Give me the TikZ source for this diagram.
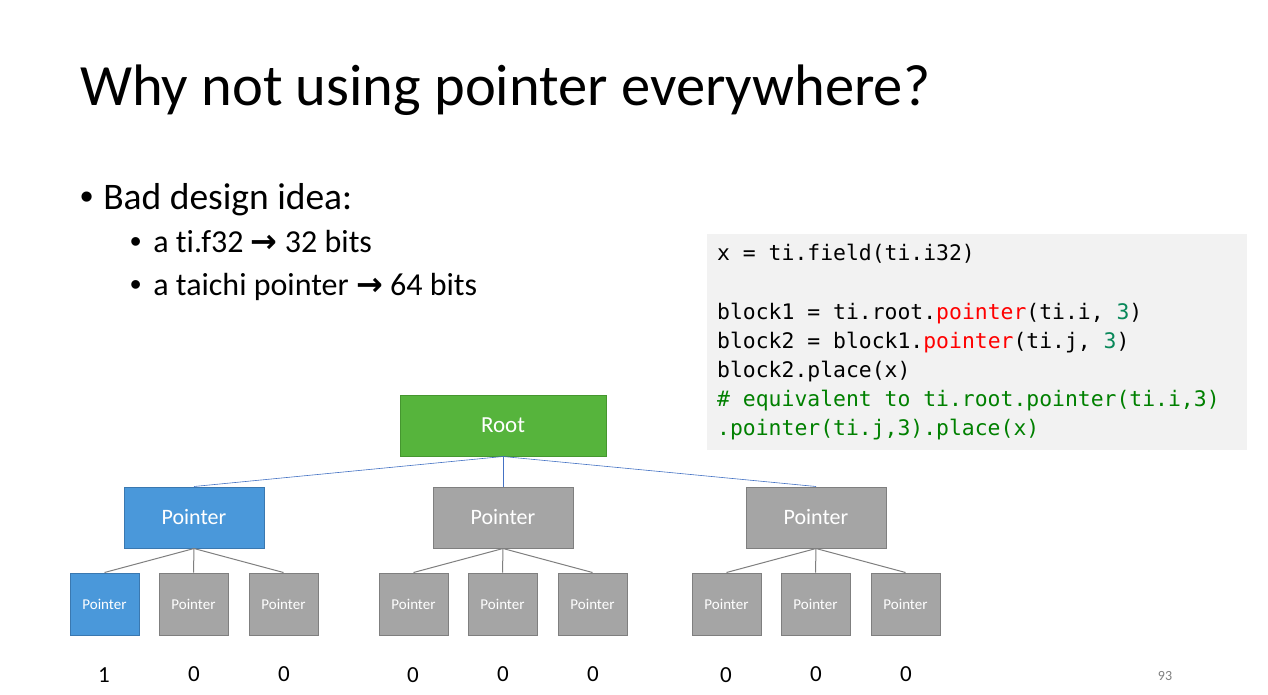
\documentclass[tikz,border=0pt]{standalone}
\usepackage{fontspec}
\setmainfont{Carlito}[Ligatures=NoCommon]
\newfontfamily\codefont{DejaVu Sans Mono}
\newfontfamily\symfont{DejaVu Sans}
\newfontfamily\bulfont{Liberation Sans}
\definecolor{rootgreen}{HTML}{56B43C}
\definecolor{rootedge}{HTML}{45962F}
\definecolor{ptrblue}{HTML}{4A98DA}
\definecolor{blueedge}{HTML}{3A78B0}
\definecolor{ptrgray}{HTML}{A5A5A5}
\definecolor{grayedge}{HTML}{7F7F7F}
\definecolor{linkblue}{HTML}{4472C4}
\definecolor{codebg}{HTML}{F2F2F2}
\definecolor{kwred}{HTML}{FF0000}
\definecolor{numgreen}{HTML}{09885A}
\definecolor{cmtgreen}{HTML}{008000}
\newcommand{\fs}[1]{\fontsize{#1}{#1}\selectfont}
\newcommand{\rarr}{{\symfont\bfseries →}}
\newcommand{\bul}{{\bulfont •}}
\begin{document}
\begin{tikzpicture}[x=1pt,y=-1pt,
  rootbox/.style={draw=rootedge,fill=rootgreen,line width=1pt,minimum width=206pt,minimum height=61pt,text=white,font=\fs{23}},
  bigptr/.style={draw=#1,line width=1pt,minimum width=140pt,minimum height=61pt,text=white,font=\fs{22}},
  smallptr/.style={draw=#1,line width=1pt,minimum width=69pt,minimum height=62pt,text=white,font=\fs{15}},
  bluelink/.style={draw=linkblue,line width=0.6pt},
  graylink/.style={draw=grayedge,line width=1pt},
  numlabel/.style={font=\fs{23},anchor=base},
  codeline/.style={anchor=base west,font=\codefont\fs{21.4},inner sep=0pt},
  bulletline/.style={anchor=base west,inner sep=0pt}
]
\useasboundingbox (0,0) rectangle (1268,695);
\fill[white] (0,0) rectangle (1268,695);

% title
\node[anchor=base west,inner sep=0pt,font=\fs{58.5}] (title) at (80,106) {Why not using pointer everywhere?};

% bullets
\node[bulletline,font=\fs{37.5}] (b1) at (80,209) {\bul\hspace{10pt}Bad design idea:};
\node[bulletline,font=\fs{32}] (b2) at (130,252) {\bul\hspace{12pt}a ti.f32 \rarr\ 32 bits};
\node[bulletline,font=\fs{32}] (b3) at (130,295) {\bul\hspace{12pt}a taichi pointer \rarr\ 64 bits};

% code box
\fill[codebg] (707,234) rectangle (1247,450);
\node[codeline] (c1) at (717,260) {x = ti.field(ti.i32)};
\node[codeline] (c2) at (717,319) {block1 = ti.root.\textcolor{kwred}{pointer}(ti.i, \textcolor{numgreen}{3})};
\node[codeline] (c3) at (717,348) {block2 = block1.\textcolor{kwred}{pointer}(ti.j, \textcolor{numgreen}{3})};
\node[codeline] (c4) at (717,377) {block2.place(x)};
\node[codeline,text=cmtgreen] (c5) at (717,406) {\# equivalent to ti.root.pointer(ti.i,3)};
\node[codeline,text=cmtgreen] (c6) at (717,435) {.pointer(ti.j,3).place(x)};

% tree
\node[rootbox] (root) at (503,425.5) {Root};
\node[bigptr=blueedge,fill=ptrblue] (pA) at (194,517.5) {Pointer};
\node[bigptr=grayedge,fill=ptrgray] (pB) at (503,517.5) {Pointer};
\node[bigptr=grayedge,fill=ptrgray] (pC) at (816,517.5) {Pointer};

\node[smallptr=blueedge,fill=ptrblue] (a1) at (104.5,604) {Pointer};
\node[smallptr=grayedge,fill=ptrgray] (a2) at (193.5,604) {Pointer};
\node[smallptr=grayedge,fill=ptrgray] (a3) at (283.5,604) {Pointer};
\node[smallptr=grayedge,fill=ptrgray] (b1n) at (413.5,604) {Pointer};
\node[smallptr=grayedge,fill=ptrgray] (b2n) at (502.5,604) {Pointer};
\node[smallptr=grayedge,fill=ptrgray] (b3n) at (592.5,604) {Pointer};
\node[smallptr=grayedge,fill=ptrgray] (c1n) at (726.5,604) {Pointer};
\node[smallptr=grayedge,fill=ptrgray] (c2n) at (815.5,604) {Pointer};
\node[smallptr=grayedge,fill=ptrgray] (c3n) at (905.5,604) {Pointer};

\draw[bluelink] (root.south) -- (pA.north);
\draw[bluelink] (root.south) -- (pB.north);
\draw[bluelink] (root.south) -- (pC.north);

\foreach \p/\k in {pA/a1,pA/a2,pA/a3,pB/b1n,pB/b2n,pB/b3n,pC/c1n,pC/c2n,pC/c3n}
  \draw[graylink] (\p.south) -- (\k.north);

% numbers
\node[numlabel] (n1) at (104,682) {1};
\node[numlabel] (n2) at (194,681) {0};
\node[numlabel] (n3) at (284,681) {0};
\node[numlabel] (n4) at (413,682) {0};
\node[numlabel] (n5) at (503,681) {0};
\node[numlabel] (n6) at (593,681) {0};
\node[numlabel] (n7) at (726,682) {0};
\node[numlabel] (n8) at (816,681) {0};
\node[numlabel] (n9) at (906,681) {0};

\node[anchor=base,font=\fs{14},text=grayedge] (page) at (1165,680) {93};
\end{tikzpicture}
\end{document}
